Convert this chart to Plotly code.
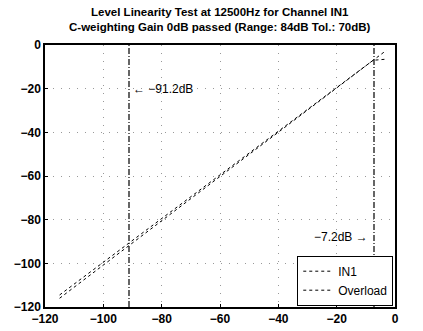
import plotly.graph_objects as go

# Data
in1_x = [-115, -3]
in1_y = [-114.5, -2.5]
ovl_x = [-115, -7.5, -3]
ovl_y = [-116, -7.0, -6.5]
marker_lines = [-91.2, -7.2]
marker_labels = ["\u2190 \u221291.2dB", "\u22127.2dB \u2192"]
x_ticks = [-120, -100, -80, -60, -40, -20, 0]
y_ticks = [-120, -100, -80, -60, -40, -20, 0]
title_lines = ["Level Linearity Test at 12500Hz for Channel IN1",
               "C-weighting Gain 0dB passed (Range: 84dB Tol.: 70dB)"]

font = "Liberation Sans, Arial, sans-serif"
fig = go.Figure()
fig.add_trace(go.Scatter(x=in1_x, y=in1_y, mode="lines", name="IN1",
                         line=dict(color="black", width=1, dash="3px,3px")))
fig.add_trace(go.Scatter(x=ovl_x, y=ovl_y, mode="lines", name="Overload",
                         line=dict(color="black", width=1, dash="3px,3px")))
for xv in marker_lines:
    fig.add_trace(go.Scatter(x=[xv, xv], y=[-120, 0], mode="lines", showlegend=False,
                             line=dict(color="black", width=1.2, dash="6px,2px,1px,2px")))

fig.add_annotation(x=marker_lines[0], y=-20, text=marker_labels[0], showarrow=False,
                   xanchor="left", xshift=2, font=dict(size=12, color="black", family=font))
fig.add_annotation(x=marker_lines[1], y=-88, text=marker_labels[1], showarrow=False,
                   xanchor="right", xshift=-4, font=dict(size=12, color="black", family=font))
for i, t in enumerate(title_lines):
    fig.add_annotation(x=0.5, xref="paper", y=1, yref="paper", yanchor="bottom",
                       yshift=25 - 15 * i, text="<b>" + t + "</b>", showarrow=False,
                       font=dict(size=11.5, color="black", family=font))

fig.update_layout(
    width=423, height=331,
    margin=dict(l=45, r=28, t=45, b=24, autoexpand=False),
    paper_bgcolor="white", plot_bgcolor="white",
    showlegend=True,
    legend=dict(x=0.995, y=0.005, xanchor="right", yanchor="bottom",
                bgcolor="white", bordercolor="black", borderwidth=1,
                font=dict(size=12, color="black", family=font),
                itemwidth=30, tracegroupgap=0),
    font=dict(family=font, color="black"),
)
axis_common = dict(showline=True, linecolor="black", linewidth=1.5, mirror=True,
                   showgrid=True, gridcolor="#999999", griddash="1px,7px", gridwidth=1,
                   zeroline=False, ticks="inside", ticklen=3, tickcolor="black",
                   automargin=False,
                   tickfont=dict(size=12, color="black", family=font))
fig.update_xaxes(range=[-120, 0], tickvals=x_ticks,
                 ticktext=[f"<b>{t}</b>".replace("-", "\u2212") for t in x_ticks], **axis_common)
fig.update_yaxes(range=[-120, 0], tickvals=y_ticks,
                 ticktext=[f"<b>{t}</b>".replace("-", "\u2212") for t in y_ticks], **axis_common)

fig.write_html("out.html", config={"displayModeBar": False},
               post_script="document.body.style.margin='0';document.body.style.overflow='hidden';")
